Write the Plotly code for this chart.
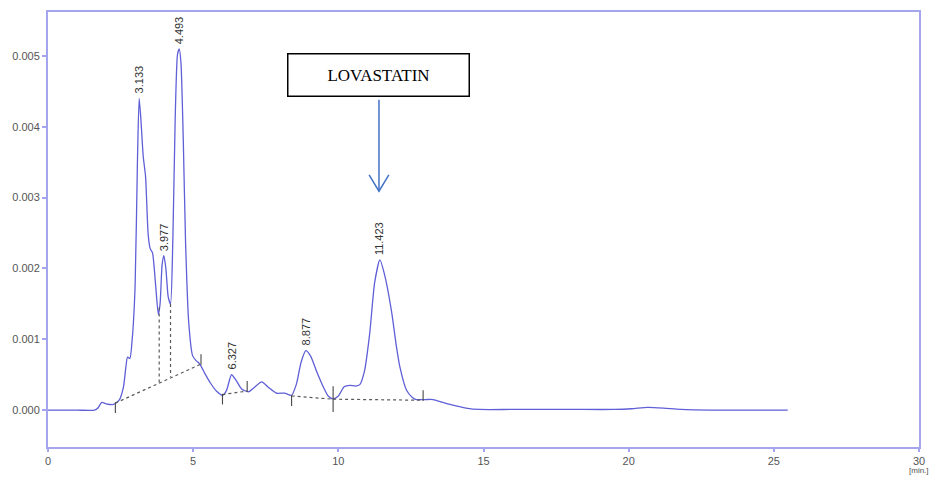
import plotly.graph_objects as go

# Chromatogram trace (retention time [min], absorbance)
time_min = [0.0, 1.0, 1.6, 1.72, 1.85, 2.0, 2.25, 2.45, 2.6, 2.68, 2.74, 2.82, 2.9, 3.0, 3.08, 3.14,
            3.2, 3.28, 3.36, 3.45, 3.52, 3.6, 3.7, 3.8, 3.86, 3.93, 3.99, 4.06, 4.14, 4.22, 4.3,
            4.38, 4.46, 4.52, 4.58, 4.66, 4.74, 4.85, 4.98, 5.1, 5.23, 5.4, 5.6, 5.8, 6.01, 6.15,
            6.32, 6.48, 6.67, 6.9, 7.1, 7.36, 7.6, 7.87, 8.15, 8.39, 8.55, 8.72, 8.88, 9.05, 9.25,
            9.48, 9.65, 9.82, 10.0, 10.2, 10.4, 10.6, 10.74, 10.9, 11.08, 11.25, 11.43, 11.6,
            11.83, 12.0, 12.12, 12.35, 12.55, 12.69, 13.0, 13.26, 13.6, 13.95, 14.4, 14.87, 16.0,
            18.0, 19.5, 20.1, 20.65, 21.2, 21.8, 23.0, 25.48]
absorbance = [0.0, 0.0, 0.0, 0.00003, 0.00011, 0.00009, 0.00008, 0.00014, 0.00033, 0.0006,
              0.00075, 0.00073, 0.001, 0.00175, 0.0035, 0.0044, 0.0041, 0.00358, 0.0033,
              0.00248, 0.00228, 0.00222, 0.0018, 0.00135, 0.0015, 0.00205, 0.00218, 0.002,
              0.0016, 0.0015, 0.0024, 0.0041, 0.00502, 0.0051, 0.0049, 0.0038, 0.00234,
              0.00122, 0.00077, 0.0007, 0.00065, 0.00052, 0.00038, 0.00027, 0.00021, 0.00028,
              0.0005, 0.00042, 0.0003, 0.00026, 0.00032, 0.0004, 0.00032, 0.00024, 0.00024,
              0.00021, 0.00036, 0.00068, 0.00084, 0.00076, 0.00055, 0.00033, 0.0002, 0.00016,
              0.0002, 0.00033, 0.00035, 0.00034, 0.00036, 0.00055, 0.00108, 0.0018, 0.00212,
              0.0019, 0.0014, 0.0009, 0.00061, 0.00028, 0.00018, 0.00015, 0.00015, 0.00015,
              0.00011, 0.00007, 0.00003, 0.00001, 0.00001, 0.00001, 0.00001, 0.00002, 0.00004,
              0.00003, 0.00001, 0.0, 0.0]

# Integration baselines (start/end time, start/end absorbance)
base_t = [[2.32, 5.27], [6.01, 6.86], [8.39, 9.82], [9.82, 12.92]]
base_v = [[0.0001, 0.00065], [0.00022, 0.00027], [0.0002, 0.000155], [0.000155, 0.00014]]
# Peak split drop lines (time, top, bottom)
drop_t = [3.83, 4.22]
drop_top = [0.00145, 0.0015]
drop_bot = [0.00038, 0.00047]
# Integration event ticks (time, absorbance, direction: -1 down, 1 up, 0 both)
tick_t = [2.32, 5.27, 6.01, 6.86, 8.39, 9.82, 12.92]
tick_v = [0.0001, 0.00065, 0.00022, 0.00027, 0.0002, 0.000155, 0.00014]
tick_dir = [-1, 1, -1, 1, -1, 0, 1]

# Peak labels
peak_t = [3.133, 3.977, 4.493, 6.327, 8.877, 11.423]
peak_v = [0.0044, 0.00218, 0.0051, 0.0005, 0.00084, 0.00212]
peak_lbl = ["3.133", "3.977", "4.493", "6.327", "8.877", "11.423"]

x_ticks = [0, 5, 10, 15, 20, 25, 30]
y_ticks = [0.0, 0.001, 0.002, 0.003, 0.004, 0.005]

line_col = "rgb(95,95,215)"
frame_col = "rgb(165,165,238)"

fig = go.Figure()
fig.add_trace(go.Scatter(x=time_min, y=absorbance, mode="lines",
                         line=dict(color=line_col, width=1.3, shape="spline", smoothing=0.6),
                         hoverinfo="skip", showlegend=False))

for bt, bv in zip(base_t, base_v):
    fig.add_trace(go.Scatter(x=bt, y=bv, mode="lines",
                             line=dict(color="rgb(90,90,90)", width=1.2, dash="dot"),
                             hoverinfo="skip", showlegend=False))
for t, a, b in zip(drop_t, drop_top, drop_bot):
    fig.add_trace(go.Scatter(x=[t, t], y=[a, b], mode="lines",
                             line=dict(color="rgb(90,90,90)", width=1.2, dash="dot"),
                             hoverinfo="skip", showlegend=False))
tl = 0.00014
for t, v, d in zip(tick_t, tick_v, tick_dir):
    if d < 0:
        ys = [v + 0.00001, v - tl]
    elif d > 0:
        ys = [v - 0.00001, v + tl]
    else:
        ys = [v - tl * 1.3, v + tl * 1.3]
    fig.add_trace(go.Scatter(x=[t, t], y=ys, mode="lines",
                             line=dict(color="rgb(70,70,70)", width=1.1),
                             hoverinfo="skip", showlegend=False))

for t, v, s in zip(peak_t, peak_v, peak_lbl):
    fig.add_annotation(x=t, y=v, text=s, showarrow=False, textangle=-90,
                       xanchor="center", yanchor="bottom", yshift=3,
                       font=dict(family="Liberation Sans Narrow, Arial Narrow, Liberation Sans", size=11,
                                 color="rgb(50,50,50)"))

# LOVASTATIN label box and arrow
fig.add_annotation(x=11.4, y=0.00473, text="LOVASTATIN", showarrow=False,
                   font=dict(family="Liberation Serif, Times New Roman", size=17, color="black"),
                   bordercolor="black", borderwidth=1.5, borderpad=5, bgcolor="white",
                   width=170, height=31, xanchor="center", yanchor="middle")
fig.add_shape(type="line", x0=11.4, x1=11.4, y0=0.00438, y1=0.00309,
              line=dict(color="rgb(68,114,196)", width=1.5))
fig.add_shape(type="path", path="M 11.06,0.00332 L 11.4,0.00309 L 11.74,0.00332",
              line=dict(color="rgb(68,114,196)", width=1.5))

fig.add_annotation(x=1.0, y=-0.068, xref="paper", yref="paper", text="[min.]", showarrow=False,
                   xanchor="center", yanchor="bottom",
                   font=dict(family="Liberation Sans", size=8, color="rgb(80,80,80)"))

axis_font = dict(family="Liberation Sans, Arial", size=11, color="rgb(85,85,85)")
fig.update_xaxes(range=[0, 30], tickvals=x_ticks, ticktext=[str(v) for v in x_ticks],
                 showgrid=False, zeroline=False, showline=True, linecolor=frame_col, linewidth=2,
                 mirror=True, ticks="outside", ticklen=3, tickcolor=frame_col, tickwidth=1.5,
                 tickfont=axis_font)
fig.update_yaxes(range=[-0.00052, 0.00562], tickvals=y_ticks, tickformat=".3f",
                 showgrid=False, zeroline=False, showline=True, linecolor=frame_col, linewidth=2,
                 mirror=True, ticks="outside", ticklen=4, tickcolor=frame_col, tickwidth=1.5,
                 tickfont=axis_font)
fig.update_layout(width=940, height=477, margin=dict(l=48, r=21, t=10, b=30),
                  paper_bgcolor="white", plot_bgcolor="white", showlegend=False)
fig.write_html("out.html")
